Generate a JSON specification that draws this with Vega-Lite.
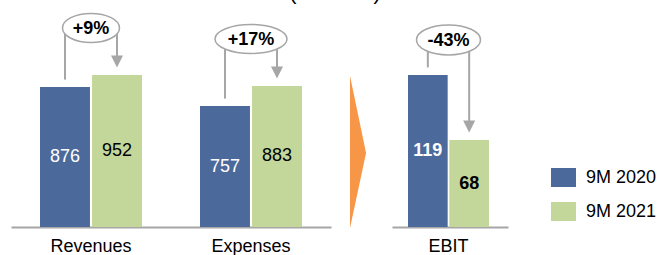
{
  "$schema": "https://vega.github.io/schema/vega-lite/v6.json",
  "padding": {"left": 11, "top": 0, "right": 0, "bottom": 0},
  "autosize": {"type": "pad"},
  "background": "white",
  "spacing": 0,
  "config": {
    "view": {"stroke": null},
    "font": "Liberation Sans",
    "concat": {"spacing": 0},
    "axis": {
      "domainColor": "#A6A6A6", "domainWidth": 2, "ticks": false, "tickSize": 0,
      "labelFontSize": 18, "labelColor": "#000000", "labelBaseline": "alphabetic",
      "labelPadding": 24.5, "labelAngle": 0, "grid": false, "title": null, "labelFont": "Liberation Sans"
    },
    "legend": {
      "orient": "none", "legendX": 540, "legendY": 165, "title": null, "padding": 0,
      "symbolType": "M-1,-0.76L1,-0.76L1,0.76L-1,0.76Z", "symbolSize": 625,
      "symbolStrokeWidth": 0, "symbolOpacity": 1, "labelFontSize": 18, "labelColor": "#000000",
      "labelOffset": 10, "rowPadding": 12, "labelFont": "Liberation Sans"
    }
  },
  "datasets": {
    "main": [
      {"group": "Revenues", "year": "9M 2020", "value": 876, "change": "+9%"},
      {"group": "Revenues", "year": "9M 2021", "value": 952, "change": "+9%"},
      {"group": "Expenses", "year": "9M 2020", "value": 757, "change": "+17%"},
      {"group": "Expenses", "year": "9M 2021", "value": 883, "change": "+17%"}
    ],
    "ebit": [
      {"group": "EBIT", "year": "9M 2020", "value": 119, "change": "-43%"},
      {"group": "EBIT", "year": "9M 2021", "value": 68, "change": "-43%"}
    ],
    "arrow": [{"label": "chevron"}],
    "heading": [{"label": "(€ million)"}]
  },
  "vconcat": [
    {
      "width": 648, "height": 5,
      "data": {"name": "heading"},
      "mark": {"type": "text", "fontSize": 21, "color": "#000000", "baseline": "alphabetic",
               "align": "center", "yOffset": -3, "clip": true},
      "encoding": {"text": {"field": "label"}}
    },
    {
      "spacing": 0,
      "hconcat": [
        {
          "width": 320, "height": 222,
          "data": {"name": "main"},
          "encoding": {
            "x": {"field": "group", "type": "nominal", "sort": ["Revenues", "Expenses"],
                  "scale": {"paddingInner": 0.3625, "paddingOuter": 0.18125}, "title": null},
            "y": {"field": "value", "type": "quantitative", "scale": {"domain": [0, 1390], "nice": false, "zero": true}, "axis": null}
          },
          "layer": [
            {
              "mark": {"type": "bar"},
              "encoding": {
                "xOffset": {"field": "year", "type": "nominal", "scale": {"paddingInner": 0.04}},
                "color": {"field": "year", "type": "nominal", "title": null,
                          "scale": {"domain": ["9M 2020", "9M 2021"], "range": ["#4B6A9B", "#C4D79B"]}}
              }
            },
            {
              "transform": [
                {"joinaggregate": [{"op": "max", "field": "value", "as": "top"}], "groupby": ["group"]},
                {"filter": "datum.year === '9M 2020'"}
              ],
              "mark": {"type": "rule", "color": "#A6A6A6", "strokeWidth": 2, "yOffset": -7.5, "y2Offset": -47},
              "encoding": {
                "xOffset": {"field": "year", "type": "nominal"},
                "y2": {"field": "top"}
              }
            },
            {
              "transform": [
                {"joinaggregate": [{"op": "max", "field": "value", "as": "top"}], "groupby": ["group"]},
                {"filter": "datum.year === '9M 2021'"}
              ],
              "mark": {"type": "rule", "color": "#A6A6A6", "strokeWidth": 2, "yOffset": -18, "y2Offset": -47},
              "encoding": {
                "xOffset": {"field": "year", "type": "nominal"},
                "y2": {"field": "top"}
              }
            },
            {
              "transform": [{"filter": "datum.year === '9M 2021'"}],
              "mark": {"type": "point", "shape": "M-1,-2L1,-2L0,0Z", "size": 144, "filled": true,
                       "color": "#A6A6A6", "opacity": 1, "strokeWidth": 0, "yOffset": -7.5},
              "encoding": {"xOffset": {"field": "year", "type": "nominal"}}
            },
            {
              "transform": [
                {"joinaggregate": [{"op": "max", "field": "value", "as": "top"}], "groupby": ["group"]},
                {"filter": "datum.year === '9M 2020'"}
              ],
              "mark": {"type": "point", "size": 841, "filled": false, "fill": "white", "stroke": "#A6A6A6",
                       "strokeWidth": 1.5, "opacity": 1, "fillOpacity": 1, "yOffset": -47},
              "encoding": {
                "y": {"field": "top", "type": "quantitative"},
                "shape": {"field": "change", "type": "nominal", "legend": null,
                          "scale": {"domain": ["+9%", "+17%"],
                                    "range": ["M-1.966,0A1.966,1 0 1,1 1.966,0A1.966,1 0 1,1 -1.966,0Z",
                                              "M-2.483,0A2.483,1 0 1,1 2.483,0A2.483,1 0 1,1 -2.483,0Z"]}}
              }
            },
            {
              "transform": [
                {"joinaggregate": [{"op": "max", "field": "value", "as": "top"}], "groupby": ["group"]},
                {"filter": "datum.year === '9M 2020'"}
              ],
              "mark": {"type": "text", "fontSize": 18, "fontWeight": "bold", "color": "#000000",
                       "baseline": "middle", "yOffset": -46},
              "encoding": {
                "y": {"field": "top", "type": "quantitative"},
                "text": {"field": "change"}
              }
            },
            {
              "transform": [{"calculate": "datum.value / 2", "as": "mid"}],
              "mark": {"type": "text", "fontSize": 18, "baseline": "middle"},
              "encoding": {
                "xOffset": {"field": "year", "type": "nominal"},
                "y": {"field": "mid", "type": "quantitative"},
                "text": {"field": "value"},
                "color": {"condition": {"test": "datum.year === '9M 2020'", "value": "#FFFFFF"}, "value": "#000000"}
              }
            }
          ]
        },
        {
          "width": 61, "height": 222,
          "data": {"name": "arrow"},
          "mark": {"type": "point", "shape": "M-0.151,-0.526L0.06,0.487L-0.151,1.474Z", "size": 23104,
                   "filled": true, "color": "#F79646", "opacity": 1, "strokeWidth": 0}
        },
        {
          "width": 116, "height": 222,
          "data": {"name": "ebit"},
          "encoding": {
            "x": {"field": "group", "type": "nominal",
                  "scale": {"paddingInner": 0, "paddingOuter": 0.216, "align": 0.457}, "title": null},
            "y": {"field": "value", "type": "quantitative", "scale": {"domain": [0, 173.7], "nice": false, "zero": true}, "axis": null}
          },
          "layer": [
            {
              "mark": {"type": "bar"},
              "encoding": {
                "xOffset": {"field": "year", "type": "nominal", "scale": {"paddingInner": 0.04}},
                "color": {"field": "year", "type": "nominal", "title": null,
                          "scale": {"domain": ["9M 2020", "9M 2021"], "range": ["#4B6A9B", "#C4D79B"]}}
              }
            },
            {
              "transform": [
                {"joinaggregate": [{"op": "max", "field": "value", "as": "top"}], "groupby": ["group"]},
                {"filter": "datum.year === '9M 2020'"}
              ],
              "mark": {"type": "rule", "color": "#A6A6A6", "strokeWidth": 2, "yOffset": -7.5, "y2Offset": -35},
              "encoding": {
                "xOffset": {"field": "year", "type": "nominal"},
                "y2": {"field": "top"}
              }
            },
            {
              "transform": [
                {"joinaggregate": [{"op": "max", "field": "value", "as": "top"}], "groupby": ["group"]},
                {"filter": "datum.year === '9M 2021'"}
              ],
              "mark": {"type": "rule", "color": "#A6A6A6", "strokeWidth": 2, "yOffset": -18, "y2Offset": -35},
              "encoding": {
                "xOffset": {"field": "year", "type": "nominal"},
                "y2": {"field": "top"}
              }
            },
            {
              "transform": [{"filter": "datum.year === '9M 2021'"}],
              "mark": {"type": "point", "shape": "M-1,-2L1,-2L0,0Z", "size": 144, "filled": true,
                       "color": "#A6A6A6", "opacity": 1, "strokeWidth": 0, "yOffset": -7.5},
              "encoding": {"xOffset": {"field": "year", "type": "nominal"}}
            },
            {
              "transform": [
                {"joinaggregate": [{"op": "max", "field": "value", "as": "top"}], "groupby": ["group"]},
                {"filter": "datum.year === '9M 2020'"}
              ],
              "mark": {"type": "point", "size": 900, "filled": false, "fill": "white", "stroke": "#A6A6A6",
                       "strokeWidth": 1.5, "opacity": 1, "fillOpacity": 1, "yOffset": -35,
                       "shape": "M-2.133,0A2.133,1 0 1,1 2.133,0A2.133,1 0 1,1 -2.133,0Z"},
              "encoding": {"y": {"field": "top", "type": "quantitative"}}
            },
            {
              "transform": [
                {"joinaggregate": [{"op": "max", "field": "value", "as": "top"}], "groupby": ["group"]},
                {"filter": "datum.year === '9M 2020'"}
              ],
              "mark": {"type": "text", "fontSize": 18, "fontWeight": "bold", "color": "#000000",
                       "baseline": "middle", "yOffset": -34},
              "encoding": {
                "y": {"field": "top", "type": "quantitative"},
                "text": {"field": "change"}
              }
            },
            {
              "transform": [{"calculate": "datum.value / 2", "as": "mid"}],
              "mark": {"type": "text", "fontSize": 18, "fontWeight": "bold", "baseline": "middle"},
              "encoding": {
                "xOffset": {"field": "year", "type": "nominal"},
                "y": {"field": "mid", "type": "quantitative"},
                "text": {"field": "value"},
                "color": {"condition": {"test": "datum.year === '9M 2020'", "value": "#FFFFFF"}, "value": "#000000"}
              }
            }
          ]
        }
      ],
      "resolve": {"scale": {"x": "independent", "y": "independent", "xOffset": "independent"}}
    }
  ]
}
